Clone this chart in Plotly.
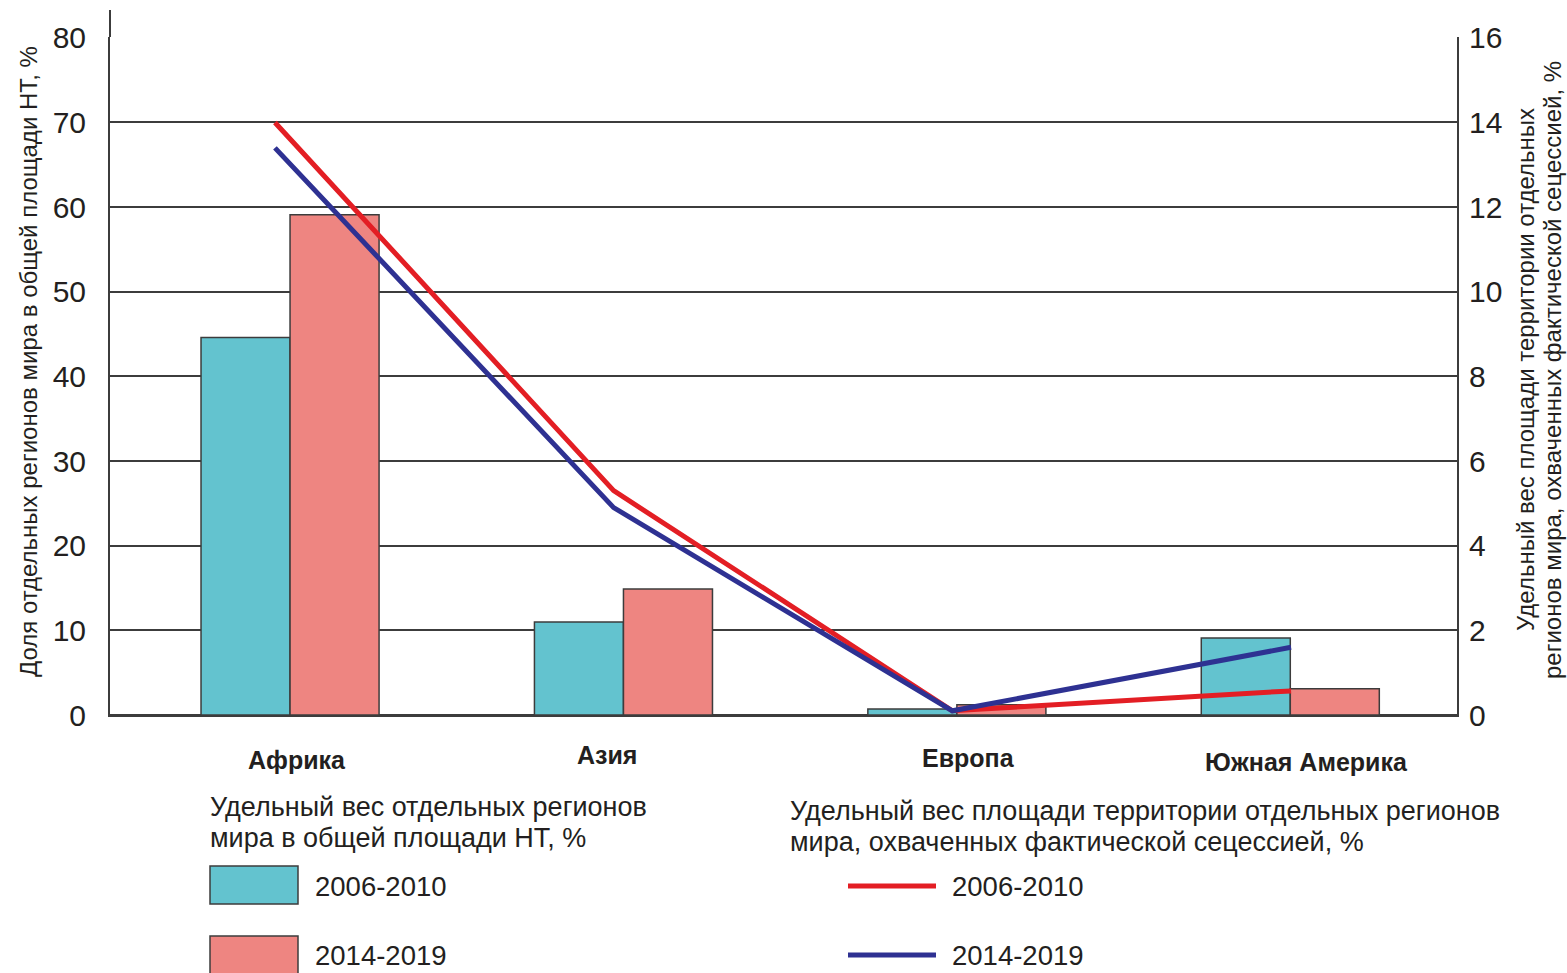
import plotly.graph_objects as go

# ---------------- data ----------------
regions = ["Африка", "Азия", "Европа", "Южная Америка"]
share_2006_2010 = [44.6, 11.0, 0.7, 9.1]      # left axis, bars
share_2014_2019 = [59.1, 14.9, 1.2, 3.1]
secession_2006_2010 = [14.0, 5.3, 0.1, 0.57]  # right axis, lines
secession_2014_2019 = [13.4, 4.9, 0.1, 1.6]
left_ticks = list(range(0, 81, 10))
right_ticks = list(range(0, 17, 2))
period_labels = ["2006-2010", "2014-2019"]

# ---------------- style ----------------
FONT = "Liberation Sans, Arial, sans-serif"
TXT = "#231F20"
AX = "#3C3C3C"
TEAL = "#63C3CF"
PINK = "#EE8581"
RED = "#E31E24"
NAVY = "#2E3192"

W, H = 1567, 973
PLOT_L, PLOT_R, PLOT_T, PLOT_B = 110, 1457, 37, 715   # target pixel edges of plot area
L, T = PLOT_L, PLOT_T
R = W - PLOT_R
B = H - PLOT_B
PW, PH = PLOT_R - PLOT_L, PLOT_B - PLOT_T


def px(x):
    return (x - PLOT_L) / PW


def py(y):
    return (PLOT_B - y) / PH


fig = go.Figure()
fig.add_trace(go.Bar(x=regions, y=share_2006_2010, name=period_labels[0],
                     marker=dict(color=TEAL, line=dict(color=AX, width=1.5)),
                     showlegend=False))
fig.add_trace(go.Bar(x=regions, y=share_2014_2019, name=period_labels[1],
                     marker=dict(color=PINK, line=dict(color=AX, width=1.5)),
                     showlegend=False))
fig.add_trace(go.Scatter(x=regions, y=secession_2006_2010, xaxis="x2", yaxis="y2",
                         mode="lines", line=dict(color=RED, width=5),
                         name=period_labels[0], showlegend=False))
fig.add_trace(go.Scatter(x=regions, y=secession_2014_2019, xaxis="x2", yaxis="y2",
                         mode="lines", line=dict(color=NAVY, width=5),
                         name=period_labels[1], showlegend=False))

annotations = []


def note(x, y, text, size, anchor="center", angle=0, align="center"):
    annotations.append(dict(x=px(x), y=py(y), xref="paper", yref="paper",
                            text=text, showarrow=False, xanchor=anchor,
                            yanchor="middle", textangle=angle, align=align,
                            font=dict(size=size, color=TXT, family=FONT)))


# category labels
cat_pos = [(297, 760), (607, 755), (968, 758), (1306, 762)]
for name, (x, y) in zip(regions, cat_pos):
    note(x, y, "<b>%s</b>" % name, 25)

# axis titles
note(28, 362, "Доля отдельных регионов мира в общей площади НТ, %", 24, angle=-90)
note(1525, 370, "Удельный вес площади территории отдельных", 24, angle=-90)
note(1552, 370, "регионов мира, охваченных фактической сецессией, %", 24, angle=-90)

# legend headers
note(208, 807, "Удельный вес отдельных регионов", 27, anchor="left")
note(208, 838, "мира в общей площади НТ, %", 27, anchor="left")
note(788, 811, "Удельный вес площади территории отдельных регионов", 27, anchor="left")
note(788, 842, "мира, охваченных фактической сецессией, %", 27, anchor="left")

# legend item labels
for lbl, y in zip(period_labels, [886, 955]):
    note(313, y, lbl, 27.5, anchor="left")
    note(950, y, lbl, 27.5, anchor="left")

shapes = [
    # left axis extension above top gridline
    dict(type="line", xref="paper", yref="paper", x0=0, x1=0, y0=1, y1=py(10),
         line=dict(color=AX, width=2)),
    # legend swatches
    dict(type="rect", xref="paper", yref="paper", x0=px(210), x1=px(298),
         y0=py(866), y1=py(904), fillcolor=TEAL, line=dict(color=AX, width=1.5)),
    dict(type="rect", xref="paper", yref="paper", x0=px(210), x1=px(298),
         y0=py(936), y1=py(980), fillcolor=PINK, line=dict(color=AX, width=1.5)),
    dict(type="line", xref="paper", yref="paper", x0=px(848), x1=px(936),
         y0=py(886), y1=py(886), line=dict(color=RED, width=5)),
    dict(type="line", xref="paper", yref="paper", x0=px(848), x1=px(936),
         y0=py(955), y1=py(955), line=dict(color=NAVY, width=5)),
]

fig.update_layout(
    width=W, height=H,
    margin=dict(l=L, r=R, t=T, b=B, pad=0),
    paper_bgcolor="white", plot_bgcolor="white",
    barmode="group", bargap=0.466, bargroupgap=0,
    font=dict(family=FONT, color=TXT),
    xaxis=dict(type="category", range=[-0.54, 3.5], showticklabels=False,
               showgrid=False, zeroline=False, showline=True,
               linecolor=AX, linewidth=2, ticks=""),
    xaxis2=dict(type="category", range=[-0.487, 3.49], overlaying="x",
                showticklabels=False, showgrid=False, zeroline=False,
                showline=False, ticks=""),
    yaxis=dict(range=[0, 80.1], tickvals=left_ticks, showgrid=True,
               gridcolor=AX, gridwidth=2, zeroline=True, zerolinecolor=AX,
               zerolinewidth=2, showline=True, linecolor=AX, linewidth=2,
               ticks="", ticklabelstandoff=16,
               tickfont=dict(size=30, color=TXT, family=FONT)),
    yaxis2=dict(range=[0, 16.02], tickvals=right_ticks, overlaying="y", side="right",
                showgrid=False, zeroline=False, showline=True, linecolor=AX,
                linewidth=2, ticks="", ticklabelstandoff=4,
                tickfont=dict(size=30, color=TXT, family=FONT)),
    annotations=annotations,
    shapes=shapes,
)

fig.write_html("out.html",
               config={"displayModeBar": False},
               post_script="document.body.style.margin='0';"
                           "document.body.style.overflow='hidden';")
